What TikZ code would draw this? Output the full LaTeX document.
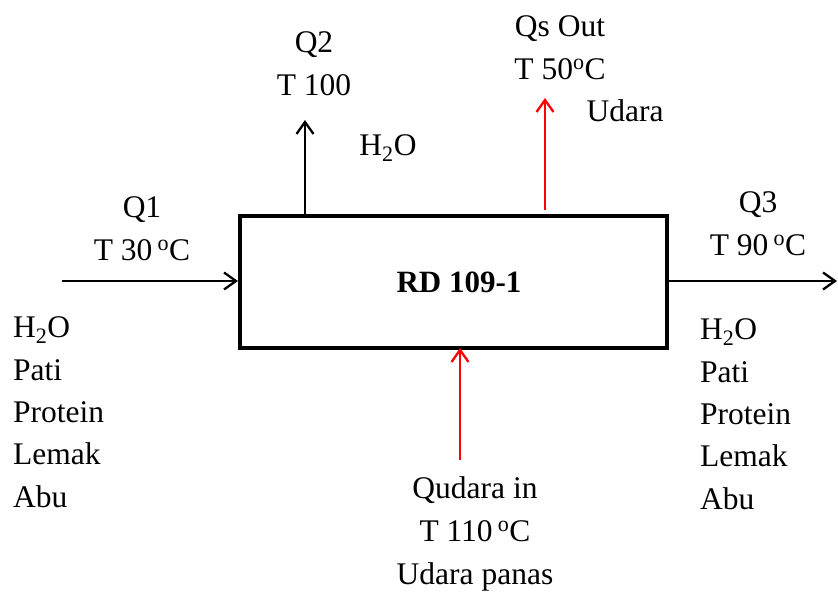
\documentclass[tikz,border=0pt]{standalone}
\usepackage{fontspec}
\setmainfont{Liberation Serif}
\usetikzlibrary{arrows.meta,positioning}

\begin{document}
\begin{tikzpicture}[x=1pt,y=-1pt,
  lbl/.style={align=center,anchor=base,inner sep=0pt,font=\fontsize{31.5}{43}\selectfont},
  lst/.style={align=left,anchor=base west,inner sep=0pt,font=\fontsize{31.5}{42.3}\selectfont},
  flow/.style={->,>={Straight Barb[length=12pt,width=17pt]},line width=2.3pt},
  hot/.style={flow,draw=red}
]
  \useasboundingbox (0,0) rectangle (838,592);
  % dryer
  \node[draw,line width=4pt,minimum width=427pt,minimum height=132pt,inner sep=0pt] (rd) at (453.5,282) {};
  \node[inner sep=0pt,font=\fontsize{31}{36}\selectfont\bfseries] (rdl) at (459,282) {RD 109-1};
  % stream ends
  \coordinate (q1s) at (62,281);
  \coordinate (q3e) at (837,281);
  \coordinate (q2e) at (305,120);
  \coordinate (qse) at (545,98);
  \coordinate (qse0) at (545,210);
  \coordinate (qus) at (460,460);
  \draw[flow] (q1s) -- (q1s -| rd.west);
  \draw[flow] (rd.east |- q3e) -- (q3e);
  \draw[flow] (rd.north -| q2e) -- (q2e);
  \draw[hot] (qse0) -- (qse);
  \draw[hot] (qus) -- ([yshift=2pt]rd.south -| qus);
  % labels (base = last line)
  \node[lbl] (q1) at (142,260) {Q1\\T 30\,\textsuperscript{o}C};
  \node[lbl] (q2) at (314,95) {Q2\\T 100};
  \node[lbl] (q2w) at (388,155) {H\textsubscript{2}O};
  \node[lbl] (qs) at (560,79) {Qs Out\\T 50\textsuperscript{o}C};
  \node[lbl] (qsu) at (625,121) {Udara};
  \node[lbl] (q3) at (758,255) {Q3\\T 90\,\textsuperscript{o}C};
  \node[lbl] (qu) at (475,584) {Qudara in\\T 110\,\textsuperscript{o}C\\Udara panas};
  \node[lst] (in) at (13,507) {H\textsubscript{2}O\\Pati\\Protein\\Lemak\\Abu};
  \node[lst] (out) at (700,509) {H\textsubscript{2}O\\Pati\\Protein\\Lemak\\Abu};
\end{tikzpicture}
\end{document}
